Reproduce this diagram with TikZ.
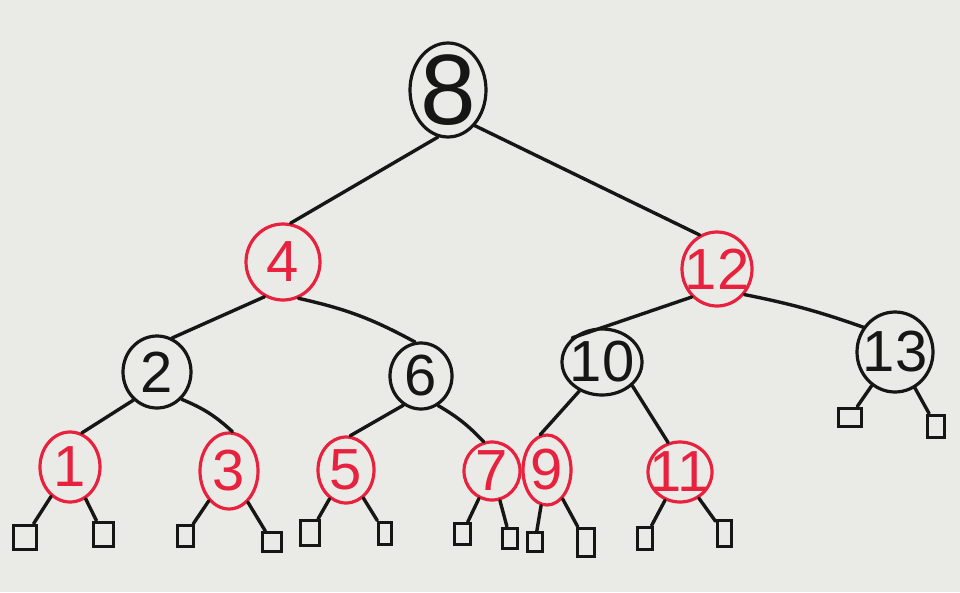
\documentclass[tikz,border=0pt]{standalone}
\usepackage{fontspec}
\setmainfont{Liberation Sans}
\usetikzlibrary{shapes.geometric}
\definecolor{board}{RGB}{234,235,231}
\definecolor{mkred}{RGB}{232,34,62}
\definecolor{mkblack}{RGB}{22,22,20}
\tikzset{
  nd/.style={ellipse, inner sep=0pt, line width=3.2pt},
  bnode/.style={nd, draw=mkblack, label={[text=mkblack, font=\fontsize{58}{58}\selectfont]center:#1}},
  bignode/.style={nd, draw=mkblack, label={[text=mkblack, font=\fontsize{100}{100}\selectfont]center:#1}},
  rnode/.style={nd, draw=mkred, label={[text=mkred, font=\fontsize{58}{58}\selectfont]center:#1}},
  leaf/.style={rectangle, draw=mkblack, line width=3pt, inner sep=0pt},
  edge/.style={draw=mkblack, line width=3.4pt, line cap=round}
}
\begin{document}
\begin{tikzpicture}[x=1pt,y=-1pt]
\fill[board] (0,0) rectangle (960,592);
\useasboundingbox (0,0) rectangle (960,592);
% internal nodes
\node[bignode=8, minimum width=76pt, minimum height=94pt] (n8) at (448,90) {};
\node[rnode=4, minimum width=74pt, minimum height=76pt] (n4) at (283,262) {};
\node[rnode=12, minimum width=70pt, minimum height=74pt] (n12) at (717,269) {};
\node[bnode=2, minimum width=68pt, minimum height=72pt] (n2) at (157,372) {};
\node[bnode=6, minimum width=62pt, minimum height=66pt] (n6) at (421,376) {};
\node[bnode=10, minimum width=80pt, minimum height=66pt] (n10) at (602,362) {};
\node[bnode=13, minimum width=76pt, minimum height=80pt] (n13) at (895,352) {};
\node[rnode=1, minimum width=60pt, minimum height=70pt] (n1) at (70,467) {};
\node[rnode=3, minimum width=58pt, minimum height=76pt] (n3) at (229,471) {};
\node[rnode=5, minimum width=56pt, minimum height=66pt] (n5) at (346,470) {};
\node[rnode=7, minimum width=56pt, minimum height=58pt] (n7) at (492,471) {};
\node[rnode=9, minimum width=48pt, minimum height=70pt] (n9) at (547,470) {};
\node[rnode=11, minimum width=64pt, minimum height=60pt] (n11) at (680,472) {};
% leaves
\node[leaf, minimum width=23pt, minimum height=24pt] (l1a) at (25,537) {};
\node[leaf, minimum width=20pt, minimum height=24pt] (l1b) at (103,534) {};
\node[leaf, minimum width=16pt, minimum height=21pt] (l3a) at (185,536) {};
\node[leaf, minimum width=19pt, minimum height=19pt] (l3b) at (272,542) {};
\node[leaf, minimum width=19pt, minimum height=25pt] (l5a) at (310,533) {};
\node[leaf, minimum width=13pt, minimum height=22pt] (l5b) at (385,533) {};
\node[leaf, minimum width=16pt, minimum height=21pt] (l7a) at (462,534) {};
\node[leaf, minimum width=15pt, minimum height=20pt] (l7b) at (510,538) {};
\node[leaf, minimum width=15pt, minimum height=19pt] (l9a) at (535,542) {};
\node[leaf, minimum width=17pt, minimum height=28pt] (l9b) at (586,542) {};
\node[leaf, minimum width=15pt, minimum height=22pt] (l11a) at (645,538) {};
\node[leaf, minimum width=14pt, minimum height=26pt] (l11b) at (724,533) {};
\node[leaf, minimum width=23pt, minimum height=18pt] (l13a) at (850,417) {};
\node[leaf, minimum width=17pt, minimum height=22pt] (l13b) at (936,426) {};
% edges
\path[edge] (n8.258) -- (n4.79);
\path[edge] (n8.307) -- (n12.117);
\path[edge] (n4.242) -- (n2.66);
\path[edge] (n4.293) to[bend left=8] (n6.100);
\path[edge] (n12.228) -- (n10.141);
\path[edge] (n12.317) to[bend left=4] (n13.142);
\path[edge] (n2.230) -- (n1.71);
\path[edge] (n2.312) to[bend left=10] (n3.85);
\path[edge] (n6.239) -- (n5.83);
\path[edge] (n6.300) to[bend left=8] (n7.106);
\path[edge] (n10.232) -- (n9.101);
\path[edge] (n10.322) -- (n11.112);
\path[edge] (n13) -- (l13a);
\path[edge] (n13) -- (l13b);
\path[edge] (n1) -- (l1a);
\path[edge] (n1) -- (l1b);
\path[edge] (n3) -- (l3a);
\path[edge] (n3) -- (l3b);
\path[edge] (n5) -- (l5a);
\path[edge] (n5) -- (l5b);
\path[edge] (n7) -- (l7a);
\path[edge] (n7) -- (l7b);
\path[edge] (n9) -- (l9a);
\path[edge] (n9) -- (l9b);
\path[edge] (n11) -- (l11a);
\path[edge] (n11) -- (l11b);
\end{tikzpicture}
\end{document}
